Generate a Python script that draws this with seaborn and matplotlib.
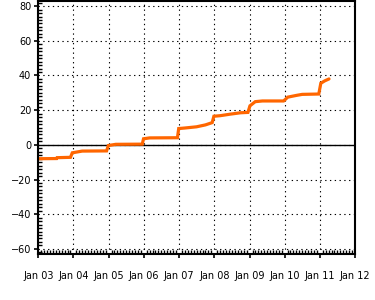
import matplotlib
matplotlib.use("Agg")
import matplotlib.pyplot as plt
import matplotlib.dates as mdates
from matplotlib.ticker import MultipleLocator
import seaborn as sns
import pandas as pd

dates = [
    "2003-01-01", "2003-07-10", "2003-07-15", "2003-12-01", "2003-12-20",
    "2004-04-01", "2004-12-10", "2004-12-28", "2005-03-15", "2005-12-15",
    "2005-12-28", "2006-03-01", "2006-12-15", "2006-12-28", "2007-03-01",
    "2007-07-01", "2007-10-01", "2007-12-10", "2007-12-28", "2008-03-01",
    "2008-06-15", "2008-10-01", "2008-12-15", "2009-01-05", "2009-03-01",
    "2009-05-15", "2009-12-20", "2010-02-01", "2010-05-01", "2010-07-01",
    "2010-12-20", "2011-01-10", "2011-02-20", "2011-04-05",
]
values = [
    -8.0, -7.9, -7.4, -7.2, -4.6,
    -3.6, -3.5, -0.4, 0.3, 0.4,
    3.5, 4.0, 4.1, 9.4, 9.7,
    10.4, 11.5, 12.8, 16.5, 16.8,
    17.7, 18.5, 18.7, 22.5, 24.9,
    25.3, 25.3, 27.5, 28.5, 29.1,
    29.3, 35.5, 36.9, 38.0,
]
year_labels = ["Jan 03", "Jan 04", "Jan 05", "Jan 06", "Jan 07",
               "Jan 08", "Jan 09", "Jan 10", "Jan 11", "Jan 12"]
y_ticks = [-60, -40, -20, 0, 20, 40, 60, 80]
y_labels = ["\u221260", "\u221240", "\u221220", "0", "20", "40", "60", "80"]

df = pd.DataFrame({"date": pd.to_datetime(dates), "value": values})

sns.set_style("ticks")
plt.rcParams["font.family"] = ["DejaVu Sans"]

fig = plt.figure(figsize=(3.75, 3.0), dpi=100)
ax = fig.add_axes([0.102, 0.153, 0.845, 0.844])

sns.lineplot(data=df, x="date", y="value", ax=ax, color="#FF6600",
             linewidth=2.3, solid_joinstyle="miter")

ax.axhline(0, color="black", linewidth=1.0, zorder=1)

ax.set_xlim(pd.Timestamp("2003-01-01"), pd.Timestamp("2012-01-01"))
ax.set_ylim(-63, 83)

ticks = pd.date_range("2003-01-01", "2012-01-01", freq="YS")
ax.set_xticks(ticks)
ax.set_xticklabels(year_labels)
ax.xaxis.set_minor_locator(mdates.MonthLocator())
ax.set_yticks(y_ticks)
ax.set_yticklabels(y_labels)
ax.yaxis.set_minor_locator(MultipleLocator(2))

ax.grid(True, which="major", color="black", linestyle=(0, (1.2, 3.1)), linewidth=0.8)
ax.set_xlabel("")
ax.set_ylabel("")

for s in ax.spines.values():
    s.set_linewidth(1.5)
    s.set_color("black")

ax.tick_params(axis="both", which="major", direction="out", length=3, width=1.2,
               labelsize=7, colors="black", pad=2)
ax.tick_params(axis="x", which="major", pad=9)
ax.tick_params(axis="both", which="minor", direction="in", length=3, width=1.0,
               colors="black")

fig.savefig("out.png", dpi=100)
